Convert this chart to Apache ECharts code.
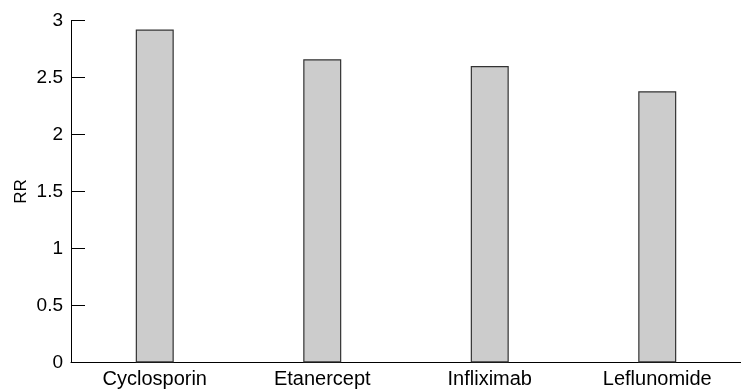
<!DOCTYPE html>
<html><head><meta charset="utf-8">
<script src="https://cdn.jsdelivr.net/npm/echarts@6/dist/echarts.min.js"></script>
<style>html,body{margin:0;padding:0;background:#fff}#c{width:741px;height:390px}</style>
</head><body><div id="c"></div>
<script>
const categories = ["Cyclosporin", "Etanercept", "Infliximab", "Leflunomide"];
const rrValues = [2.92, 2.66, 2.6, 2.38];
const yTicks = [0, 0.5, 1, 1.5, 2, 2.5, 3];

const font = 'Liberation Sans, Arial, Helvetica, sans-serif';
const chart = echarts.init(document.getElementById('c'));
chart.setOption({
  animation: false,
  backgroundColor: '#fff',
  grid: { left: 71, right: -5, top: 20.5, bottom: 27.5 },
  xAxis: {
    type: 'category', data: categories,
    axisLine: { lineStyle: { color: '#000', width: 1 } },
    axisTick: { inside: true, length: 14, lineStyle: { color: '#000' } },
    axisLabel: { color: '#000', fontSize: 20, fontFamily: font, margin: 7 }
  },
  yAxis: {
    type: 'value', min: yTicks[0], max: yTicks[yTicks.length - 1], interval: 0.5,
    name: 'RR', nameLocation: 'middle', nameGap: 41, nameMoveOverlap: false,
    nameTextStyle: { color: '#000', fontSize: 17, fontFamily: font },
    axisLine: { show: true, lineStyle: { color: '#000', width: 1 } },
    axisTick: { show: true, inside: true, length: 14, lineStyle: { color: '#000' } },
    splitLine: { show: false },
    axisLabel: { color: '#000', fontSize: 19, fontFamily: font, margin: 8 }
  },
  series: [{
    type: 'bar', data: rrValues, barWidth: 38,
    itemStyle: { color: '#cccccc', borderColor: '#333', borderWidth: 1.2 }
  }]
});
</script></body></html>
